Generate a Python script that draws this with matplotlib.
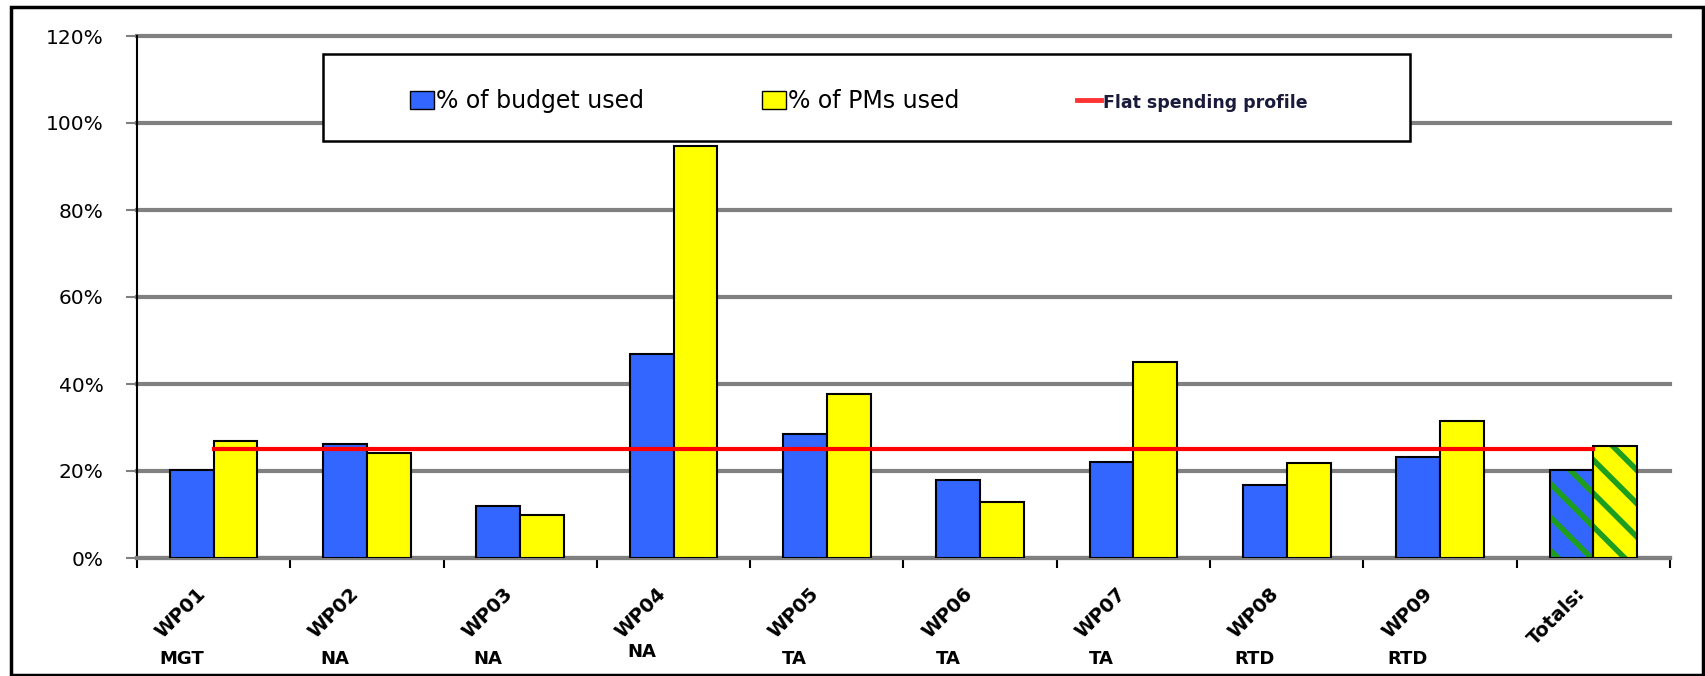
import numpy as np
import matplotlib.pyplot as plt
from matplotlib.patches import Rectangle, Patch
from matplotlib.lines import Line2D

plt.rcParams['font.family'] = ['DejaVu Sans']
plt.rcParams['hatch.linewidth'] = 4

# Work package spending data (% used)
packages = ['WP01', 'WP02', 'WP03', 'WP04', 'WP05', 'WP06', 'WP07', 'WP08', 'WP09', 'Totals:']
groups = ['MGT', 'NA', 'NA', 'NA', 'TA', 'TA', 'TA', 'RTD', 'RTD', '']
budget_used = [20.2, 26.2, 12.0, 47.0, 28.5, 18.0, 22.0, 16.8, 23.2, 20.2]
pms_used = [26.8, 24.2, 10.0, 94.6, 37.8, 12.8, 45.0, 21.8, 31.5, 25.8]
flat_profile = 25.0

BLUE = '#3366ff'
YELLOW = '#ffff00'
GREEN = '#1e9e1e'
GRID = '#808080'

fig = plt.figure(figsize=(17.06, 6.76), dpi=100)
ax = fig.add_axes([137 / 1706, 1 - 558 / 676, 1533 / 1706, 522 / 676])

x = np.arange(len(packages))
w = 1 / 3.5
n = len(packages) - 1

# regular work packages
ax.bar(x[:n] - w / 2, budget_used[:n], w, color=BLUE, edgecolor='black', linewidth=1.5, zorder=3)
ax.bar(x[:n] + w / 2, pms_used[:n], w, color=YELLOW, edgecolor='black', linewidth=1.5, zorder=3)

# totals: striped bars, hatch drawn first then black outline on top
ax.bar(x[n] - w / 2, budget_used[n], w, color=BLUE, edgecolor=GREEN, hatch='\\', linewidth=0, zorder=3)
ax.bar(x[n] + w / 2, pms_used[n], w, color=YELLOW, edgecolor=GREEN, hatch='\\', linewidth=0, zorder=3)
ax.bar([x[n] - w / 2, x[n] + w / 2], [budget_used[n], pms_used[n]], w, fill=False,
       edgecolor='black', linewidth=1.5, zorder=3)

# flat spending line through category centres
ax.plot(x, [flat_profile] * len(x), color='#ff0000', linewidth=3, zorder=4)

ax.set_xlim(-0.5, len(packages) - 0.5)
ax.set_ylim(0, 120)
ax.set_yticks(range(0, 121, 20))
ax.set_yticklabels([f'{v}%' for v in range(0, 121, 20)], fontsize=14.5)
ax.yaxis.grid(True, color=GRID, linewidth=3, zorder=0)
ax.set_axisbelow(True)
for gl in ax.get_ygridlines():
    gl.set_clip_on(False)

ax.set_xticks(np.arange(len(packages) + 1) - 0.5)
ax.set_xticklabels([])
ax.tick_params(axis='x', direction='out', length=7, width=1.5, color='black')
ax.tick_params(axis='y', direction='out', length=8, width=1.5, color=GRID, pad=16)

for side in ['top', 'right']:
    ax.spines[side].set_visible(False)
ax.spines['left'].set_color('black')
ax.spines['left'].set_linewidth(1.5)
ax.spines['bottom'].set_color(GRID)
ax.spines['bottom'].set_linewidth(3)

# rotated package names and group labels underneath
for i, (p, g) in enumerate(zip(packages, groups)):
    ax.text(i - 0.07, -7.5, p, rotation=45, rotation_mode='anchor', ha='right', va='center',
            fontsize=14, fontweight='bold')
    if g:
        gy = -21.6 if p == 'WP04' else -23.3
        ax.text(i - 0.21, gy, g, ha='center', va='center', fontsize=13, fontweight='bold')

# legend box covering the upper gridline
box = Rectangle((0.1216, 0.799), 0.7091, 0.1665, transform=ax.transAxes,
                facecolor='white', edgecolor='black', linewidth=1.8, zorder=5, clip_on=False)
ax.add_patch(box)
handles = [Patch(facecolor=BLUE, edgecolor='black'),
           Patch(facecolor=YELLOW, edgecolor='black'),
           Line2D([0], [0], color='#ff3333', linewidth=3.5)]
leg = ax.legend(handles, ['% of budget used', '% of PMs used', 'Flat spending profile'],
                ncol=3, loc='center', bbox_to_anchor=(0.471, 0.875), frameon=False,
                fontsize=17, handlelength=1.0, handleheight=0.75, handletextpad=0.1,
                columnspacing=5.0)
leg.set_zorder(6)
flat_txt = leg.get_texts()[2]
flat_txt.set_fontweight('bold')
flat_txt.set_fontsize(12.5)
flat_txt.set_color('#1a1a3a')

# outer chart border
fig.add_artist(Rectangle((11 / 1706, 1 / 676), 1692 / 1706, 668 / 676, transform=fig.transFigure,
                         fill=False, edgecolor='black', linewidth=2.5))

fig.savefig('out.png', dpi=100)
